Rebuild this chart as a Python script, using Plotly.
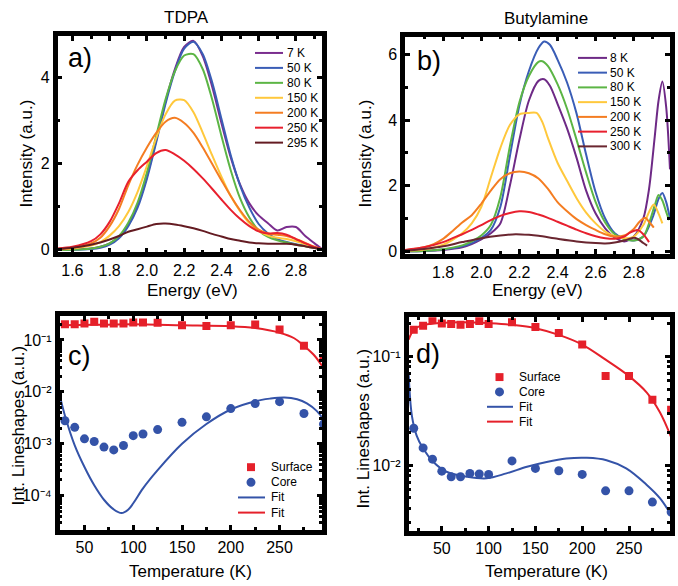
import plotly.graph_objects as go

W, H = 678, 586
FONT = "Liberation Sans, Arial, sans-serif"

# ---------------- Panel a (TDPA) ----------------
labels_a = ["7 K", "50 K", "80 K", "150 K", "200 K", "250 K", "295 K"]
colors_a = ["#7A2D8E", "#3A5DB6", "#5CB545", "#FFC83C", "#F47D22", "#E8202E", "#641B22"]
energy_a = [1.52, 1.60, 1.70, 1.75, 1.80, 1.85, 1.90, 1.95, 2.00, 2.05, 2.10, 2.15, 2.20, 2.25,
            2.30, 2.35, 2.40, 2.45, 2.50, 2.55, 2.60, 2.65, 2.70, 2.75, 2.80, 2.85, 2.90, 2.94]
a_7K = [0.00, 0.01, 0.03, 0.07, 0.15, 0.30, 0.58, 1.02, 1.70, 2.55, 3.45, 4.20, 4.72, 4.86,
        4.50, 3.80, 2.95, 2.15, 1.52, 1.08, 0.80, 0.62, 0.45, 0.53, 0.53, 0.32, 0.15, 0.02]
a_50K = [0.00, 0.00, 0.02, 0.05, 0.12, 0.27, 0.55, 0.98, 1.65, 2.50, 3.40, 4.15, 4.68, 4.84,
         4.55, 3.90, 3.05, 2.20, 1.50, 0.98, 0.60, 0.38, 0.25, 0.18, 0.13, 0.09, 0.05, 0.01]
a_80K = [0.00, 0.00, 0.03, 0.07, 0.15, 0.32, 0.63, 1.10, 1.80, 2.65, 3.50, 4.15, 4.52, 4.55,
         4.20, 3.50, 2.65, 1.85, 1.20, 0.75, 0.45, 0.30, 0.22, 0.17, 0.12, 0.08, 0.04, 0.01]
a_150K = [0.01, 0.03, 0.10, 0.18, 0.33, 0.55, 0.88, 1.35, 1.95, 2.60, 3.15, 3.47, 3.48, 3.20,
          2.72, 2.20, 1.70, 1.25, 0.90, 0.62, 0.44, 0.33, 0.28, 0.25, 0.20, 0.13, 0.06, 0.01]
a_200K = [0.02, 0.05, 0.15, 0.28, 0.55, 0.95, 1.50, 1.98, 2.38, 2.72, 2.98, 3.07, 2.95, 2.72,
          2.38, 2.00, 1.62, 1.25, 0.92, 0.65, 0.47, 0.38, 0.35, 0.32, 0.25, 0.16, 0.07, 0.01]
a_250K = [0.03, 0.07, 0.20, 0.36, 0.65, 1.08, 1.58, 1.85, 2.05, 2.25, 2.32, 2.22, 2.07, 1.88,
          1.66, 1.42, 1.17, 0.93, 0.72, 0.55, 0.43, 0.38, 0.39, 0.35, 0.25, 0.15, 0.06, 0.01]
a_295K = [0.02, 0.05, 0.12, 0.17, 0.24, 0.32, 0.42, 0.48, 0.54, 0.60, 0.61, 0.59, 0.55, 0.50,
          0.44, 0.37, 0.31, 0.25, 0.21, 0.17, 0.15, 0.14, 0.14, 0.14, 0.12, 0.08, 0.04, 0.01]
series_a = [a_7K, a_50K, a_80K, a_150K, a_200K, a_250K, a_295K]

# ---------------- Panel b (Butylamine) ----------------
labels_b = ["8 K", "50 K", "80 K", "150 K", "200 K", "250 K", "300 K"]
colors_b = ["#6E2A86", "#3A5DB6", "#5CB545", "#FFC83C", "#F47D22", "#E8202E", "#6A2630"]
b_8K_E = [1.60, 1.70, 1.80, 1.90, 1.95, 2.00, 2.05, 2.10, 2.15, 2.20, 2.25, 2.30, 2.33, 2.36, 2.40,
          2.45, 2.50, 2.55, 2.60, 2.65, 2.70, 2.75, 2.80, 2.85, 2.88, 2.91, 2.93, 2.95, 2.97, 2.99]
b_8K_I = [0.00, 0.01, 0.04, 0.12, 0.22, 0.36, 0.55, 0.85, 2.00, 3.40, 4.60, 5.20, 5.25, 5.05, 4.50,
          3.75, 2.85, 1.85, 1.15, 0.70, 0.42, 0.30, 0.45, 1.00, 1.90, 3.50, 4.60, 5.18, 4.40, 2.50]
b_50K_E = [1.60, 1.70, 1.80, 1.90, 1.95, 2.00, 2.05, 2.10, 2.15, 2.20, 2.25, 2.30, 2.33, 2.36, 2.40,
           2.45, 2.50, 2.55, 2.60, 2.65, 2.70, 2.75, 2.80, 2.85, 2.90, 2.93, 2.95, 2.97, 2.99]
b_50K_I = [0.00, 0.01, 0.05, 0.15, 0.25, 0.40, 0.65, 1.35, 2.90, 4.45, 5.50, 6.20, 6.40, 6.30, 5.85,
           5.15, 4.20, 2.95, 1.80, 1.00, 0.55, 0.38, 0.33, 0.45, 1.05, 1.60, 1.78, 1.50, 1.00]
b_80K_E = [1.60, 1.70, 1.80, 1.90, 1.95, 2.00, 2.05, 2.10, 2.15, 2.20, 2.25, 2.30, 2.32, 2.35, 2.40,
           2.45, 2.50, 2.55, 2.60, 2.65, 2.70, 2.75, 2.80, 2.85, 2.88, 2.91, 2.93, 2.95, 2.97, 2.985]
b_80K_I = [0.00, 0.01, 0.06, 0.18, 0.30, 0.48, 0.80, 1.65, 3.20, 4.55, 5.35, 5.78, 5.80, 5.65, 5.10,
           4.35, 3.40, 2.40, 1.50, 0.88, 0.52, 0.37, 0.33, 0.45, 0.85, 1.40, 1.72, 1.55, 1.20, 0.95]
b_150K_E = [1.60, 1.70, 1.80, 1.85, 1.90, 1.95, 2.00, 2.05, 2.10, 2.15, 2.20, 2.25, 2.29, 2.32, 2.35,
            2.40, 2.45, 2.50, 2.55, 2.60, 2.65, 2.70, 2.75, 2.80, 2.85, 2.88, 2.905, 2.93, 2.95]
b_150K_I = [0.01, 0.05, 0.20, 0.35, 0.55, 0.85, 1.35, 2.25, 3.15, 3.85, 4.18, 4.22, 4.22, 3.95, 3.45,
            2.70, 2.15, 1.62, 1.18, 0.85, 0.60, 0.46, 0.40, 0.45, 0.80, 1.20, 1.43, 1.15, 0.85]
b_200K_E = [1.60, 1.70, 1.75, 1.80, 1.85, 1.90, 1.95, 2.00, 2.05, 2.10, 2.15, 2.20, 2.25, 2.30, 2.35,
            2.40, 2.45, 2.50, 2.55, 2.60, 2.65, 2.70, 2.75, 2.80, 2.83, 2.86, 2.88, 2.905]
b_200K_I = [0.03, 0.12, 0.22, 0.38, 0.62, 0.88, 1.10, 1.45, 1.85, 2.20, 2.38, 2.43, 2.38, 2.22, 1.90,
            1.50, 1.22, 0.98, 0.80, 0.65, 0.52, 0.45, 0.48, 0.68, 0.90, 1.02, 0.90, 0.72]
b_250K_E = [1.60, 1.70, 1.80, 1.85, 1.90, 1.95, 2.00, 2.05, 2.10, 2.15, 2.20, 2.25, 2.30, 2.35, 2.40,
            2.45, 2.50, 2.55, 2.60, 2.65, 2.70, 2.75, 2.78, 2.82, 2.85, 2.88]
b_250K_I = [0.04, 0.12, 0.28, 0.40, 0.52, 0.65, 0.80, 0.95, 1.08, 1.17, 1.22, 1.20, 1.12, 1.02, 0.90,
            0.78, 0.66, 0.55, 0.46, 0.40, 0.38, 0.45, 0.57, 0.65, 0.52, 0.28]
b_300K_E = [1.60, 1.70, 1.80, 1.90, 2.00, 2.10, 2.18, 2.25, 2.30, 2.40, 2.50, 2.60, 2.65, 2.70, 2.75,
            2.80, 2.82, 2.85, 2.87]
b_300K_I = [0.02, 0.07, 0.15, 0.28, 0.40, 0.48, 0.52, 0.50, 0.47, 0.38, 0.30, 0.25, 0.24, 0.27, 0.33,
            0.41, 0.38, 0.25, 0.17]
series_b = [(b_8K_E, b_8K_I), (b_50K_E, b_50K_I), (b_80K_E, b_80K_I), (b_150K_E, b_150K_I),
            (b_200K_E, b_200K_I), (b_250K_E, b_250K_I), (b_300K_E, b_300K_I)]

# ---------------- Panel c (TDPA lineshapes) ----------------
temp_c = [30, 40, 50, 60, 70, 80, 90, 100, 110, 125, 150, 175, 200, 225, 250, 275, 295]
surface_c = [0.20, 0.20, 0.208, 0.224, 0.208, 0.208, 0.208, 0.217, 0.217, 0.214, 0.193, 0.187,
             0.193, 0.199, 0.160, 0.077, 0.045]
core_c = [2.77e-3, 2.07e-3, 1.24e-3, 1.10e-3, 8.6e-4, 7.6e-4, 9.25e-4, 1.43e-3, 1.54e-3, 1.87e-3,
          2.58e-3, 3.3e-3, 4.76e-3, 5.93e-3, 6.47e-3, 3.82e-3, 2.39e-3]
fit_core_c_T = [24, 30, 40, 50, 60, 70, 80, 88, 95, 100, 110, 125, 150, 175, 200, 225, 240, 255,
                268, 278, 288, 295]
fit_core_c = [9.5e-3, 3.47e-3, 9.3e-4, 3.55e-4, 1.58e-4, 8.3e-5, 5.4e-5, 4.6e-5, 5.4e-5, 7.1e-5,
              1.38e-4, 3.1e-4, 1.0e-3, 2.4e-3, 4.57e-3, 6.6e-3, 7.4e-3, 7.8e-3, 7.2e-3, 6.0e-3,
              4.3e-3, 2.95e-3]
fit_surf_c_T = [24, 60, 100, 150, 200, 225, 250, 265, 275, 285, 295]
fit_surf_c = [0.193, 0.196, 0.200, 0.193, 0.185, 0.170, 0.138, 0.108, 0.077, 0.052, 0.029]

# ---------------- Panel d (Butylamine lineshapes) ----------------
temp_d = [20, 30, 40, 50, 60, 70, 80, 90, 100, 125, 150, 175, 200, 225, 250, 275, 295]
surface_d = [0.175, 0.19, 0.22, 0.20, 0.198, 0.194, 0.198, 0.211, 0.198, 0.205, 0.185, 0.163,
             0.128, 0.0658, 0.0658, 0.0398, 0.0323]
core_d = [0.0218, 0.0144, 0.01135, 8.81e-3, 7.83e-3, 7.83e-3, 8.4e-3, 8.3e-3, 8.2e-3, 0.01094,
          9.33e-3, 8.88e-3, 8.22e-3, 5.81e-3, 5.81e-3, 4.58e-3, 3.71e-3]
fit_core_d_T = [14.5, 18, 23, 30, 41, 55, 77, 98, 119, 141, 162, 183, 205, 226, 247, 269, 283, 295]
fit_core_d = [0.0708, 0.0285, 0.0188, 0.0142, 0.0107, 8.7e-3, 7.83e-3, 7.57e-3, 8.4e-3, 9.66e-3,
              0.0107, 0.0115, 0.01167, 0.0111, 9.33e-3, 6.58e-3, 4.98e-3, 3.5e-3]
fit_surf_d_T = [14.5, 20, 27, 38, 59, 84, 102, 125, 150, 175, 200, 225, 249, 269, 283, 295]
fit_surf_d = [0.142, 0.175, 0.19, 0.198, 0.204, 0.204, 0.201, 0.194, 0.181, 0.157, 0.128, 0.093,
              0.0667, 0.0464, 0.0306, 0.0181]

decade_labels_c = ["10⁻⁴", "10⁻³", "10⁻²", "10⁻¹"]
decade_labels_d = ["10⁻²", "10⁻¹"]

RED = "#E5202A"
BLUE = "#3453A8"
legend_cd = [("Surface", "square", RED), ("Core", "circle", BLUE), ("Fit", "line", BLUE), ("Fit", "line", RED)]

# ---------------- figure ----------------
fig = go.Figure()

for name, col, ys in zip(labels_a, colors_a, series_a):
    fig.add_trace(go.Scatter(x=energy_a, y=ys, mode="lines", name=name,
                             line=dict(color=col, width=2, shape="spline", smoothing=0.8),
                             xaxis="x", yaxis="y", showlegend=False))
for name, col, (xs, ys) in zip(labels_b, colors_b, series_b):
    fig.add_trace(go.Scatter(x=xs, y=ys, mode="lines", name=name,
                             line=dict(color=col, width=2, shape="spline", smoothing=0.8),
                             xaxis="x2", yaxis="y2", showlegend=False))

def add_lineshape(T, surf, core, fT, fcore, sT, fsurf, xa, ya):
    fig.add_trace(go.Scatter(x=fT, y=fcore, mode="lines", line=dict(color=BLUE, width=2, shape="spline"),
                             xaxis=xa, yaxis=ya, showlegend=False))
    fig.add_trace(go.Scatter(x=sT, y=fsurf, mode="lines", line=dict(color=RED, width=2, shape="spline"),
                             xaxis=xa, yaxis=ya, showlegend=False))
    fig.add_trace(go.Scatter(x=T, y=surf, mode="markers", marker=dict(symbol="square", size=8, color=RED),
                             xaxis=xa, yaxis=ya, showlegend=False))
    fig.add_trace(go.Scatter(x=T, y=core, mode="markers", marker=dict(symbol="circle", size=9, color=BLUE),
                             xaxis=xa, yaxis=ya, showlegend=False))

add_lineshape(temp_c, surface_c, core_c, fit_core_c_T, fit_core_c, fit_surf_c_T, fit_surf_c, "x3", "y3")
add_lineshape(temp_d, surface_d, core_d, fit_core_d_T, fit_core_d, fit_surf_d_T, fit_surf_d, "x4", "y4")

def dx(x0, x1):
    return [x0 / W, x1 / W]

def dy(y0, y1):
    return [1 - y1 / H, 1 - y0 / H]

base = dict(showline=True, linewidth=4.5, linecolor="black", mirror="allticks", ticks="inside",
            ticklen=5, tickwidth=2.5, tickcolor="black", showgrid=False, zeroline=False,
            tickfont=dict(size=16, family=FONT, color="black"))
minor_lin = dict(ticks="inside", ticklen=3, tickwidth=2.5, tickcolor="black", showgrid=False)

def lin_minor(vals):
    d = dict(minor_lin)
    d["tickvals"] = vals
    return d

def log_minor(lo, hi):
    vals = []
    for e in range(lo, hi):
        for m in range(2, 10):
            vals.append(m * 10 ** e)
    d = dict(minor_lin)
    d["tickvals"] = vals
    return d

ticks_e = [1.6, 1.8, 2.0, 2.2, 2.4, 2.6, 2.8]
minor_e = [1.7, 1.9, 2.1, 2.3, 2.5, 2.7, 2.9]
logfont = dict(size=16, family=FONT, color="black")

fig.update_layout(
    width=W, height=H, margin=dict(l=0, r=0, t=0, b=0),
    paper_bgcolor="white", plot_bgcolor="white", showlegend=False,
    font=dict(family=FONT, color="black"),
    xaxis=dict(base, domain=dx(57.5, 322), range=[1.52, 2.94], tickvals=ticks_e,
               ticktext=[f"{v:.1f}" for v in ticks_e], minor=lin_minor(minor_e), anchor="y"),
    yaxis=dict(base, domain=dy(36.5, 255), range=[-0.06, 4.97], tickvals=[0, 2, 4],
               minor=lin_minor([1, 3]), anchor="x"),
    xaxis2=dict(base, domain=dx(405, 670), range=[1.6, 2.99], tickvals=ticks_e[1:],
                ticktext=[f"{v:.1f}" for v in ticks_e[1:]], minor=lin_minor(minor_e), anchor="y2"),
    yaxis2=dict(base, domain=dy(37, 256.5), range=[-0.08, 6.55], tickvals=[0, 2, 4, 6],
                minor=lin_minor([1, 3, 5]), anchor="x2"),
    xaxis3=dict(base, domain=dx(59.5, 322), range=[24.4, 293.5], tickvals=[50, 100, 150, 200, 250],
                minor=lin_minor([25, 75, 125, 175, 225, 275]), anchor="y3"),
    yaxis3=dict(base, domain=dy(319.5, 535), type="log", range=[-4.655, -0.542],
                tickvals=[1e-4, 1e-3, 1e-2, 1e-1], ticktext=decade_labels_c, tickfont=logfont,
                minor=log_minor(-5, 0), anchor="x3"),
    xaxis4=dict(base, domain=dx(408.5, 670), range=[14.4, 293.8], tickvals=[50, 100, 150, 200, 250],
                minor=lin_minor([25, 75, 125, 175, 225, 275]), anchor="y4"),
    yaxis4=dict(base, domain=dy(320.5, 536), type="log", range=[-2.6, -0.642],
                tickvals=[1e-2, 1e-1], ticktext=decade_labels_d, tickfont=logfont,
                minor=log_minor(-3, 0), anchor="x4"),
)

ann = []
shapes = []

def text(x, y, s, size, xanchor="center", yanchor="middle", angle=0):
    ann.append(dict(x=x / W, y=1 - y / H, xref="paper", yref="paper", text=s, showarrow=False,
                    xanchor=xanchor, yanchor=yanchor, textangle=angle,
                    font=dict(size=size, family=FONT, color="black")))

# titles
text(186, 18, "TDPA", 17)
text(546, 19, "Butylamine", 17)
text(192, 293, "Energy (eV)", 17)
text(537, 293, "Energy (eV)", 17)
text(190, 577, "Temperature (K)", 17)
text(546, 577, "Temperature (K)", 17)
text(26, 155, "Intensity (a.u.)", 17, angle=-90)
text(365, 155, "Intensity (a.u.)", 17, angle=-90)
text(19, 430, "Int. Lineshapes (a.u.)", 17, angle=-90)
text(364, 433, "Int. Lineshapes (a.u.)", 17, angle=-90)
# panel letters
text(66, 59, "a)", 27, xanchor="left")
text(415, 62, "b)", 27, xanchor="left")
text(66, 360, "c)", 27, xanchor="left")
text(414, 358, "d)", 27, xanchor="left")

# spectra legends
def spectra_legend(names, cols, lx0, lx1, tx, y0, step):
    for i, (n, c) in enumerate(zip(names, cols)):
        y = y0 + i * step
        shapes.append(dict(type="line", xref="paper", yref="paper", x0=lx0 / W, x1=lx1 / W,
                           y0=1 - y / H, y1=1 - y / H, line=dict(color=c, width=2)))
        text(tx, y, n, 12, xanchor="left")

spectra_legend(labels_a, colors_a, 255, 283, 285, 53.5, 15.1)
spectra_legend(labels_b, colors_b, 578, 607, 608, 58.5, 14.9)

def lineshape_legend(cx, lx0, lx1, tx, y0, step):
    for i, (n, kind, c) in enumerate(legend_cd):
        y = y0 + i * step
        if kind == "line":
            shapes.append(dict(type="line", xref="paper", yref="paper", x0=lx0 / W, x1=lx1 / W,
                               y0=1 - y / H, y1=1 - y / H, line=dict(color=c, width=2)))
        else:
            r = 4 if kind == "square" else 4.5
            shapes.append(dict(type="rect" if kind == "square" else "circle", xref="paper", yref="paper",
                               x0=(cx - r) / W, x1=(cx + r) / W, y0=1 - (y + r) / H, y1=1 - (y - r) / H,
                               fillcolor=c, line=dict(width=0)))
        text(tx, y, n, 12, xanchor="left")

lineshape_legend(251, 238, 265, 269, 472, 15.3)
lineshape_legend(499.5, 487, 513, 517, 381, 15.0)

fig.update_layout(annotations=ann, shapes=shapes)
fig.write_html("out.html")
